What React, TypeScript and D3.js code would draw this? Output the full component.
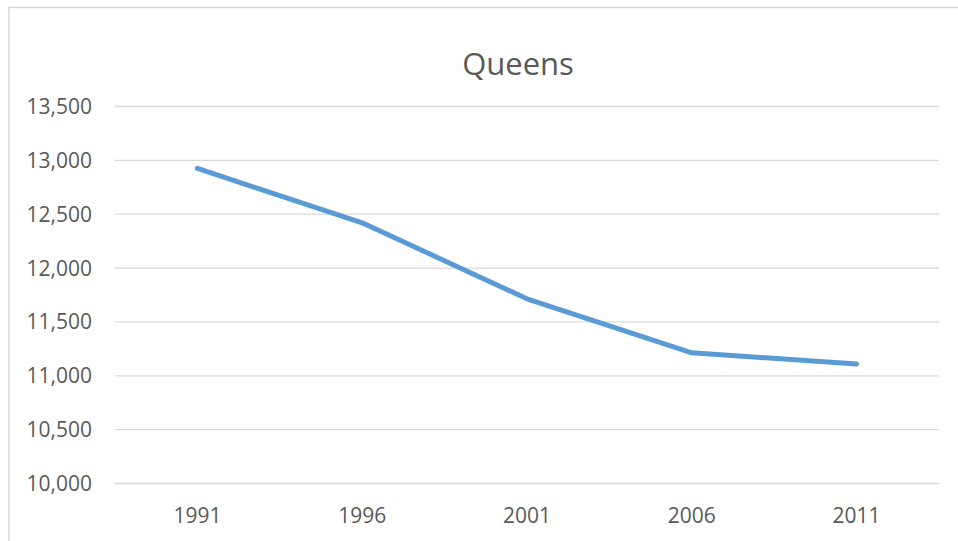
import React from "react";
import * as d3 from "d3";

const years = ["1991", "1996", "2001", "2006", "2011"];
const population = [12925, 12420, 11715, 11213, 11109];
const yTicks = [10000, 10500, 11000, 11500, 12000, 12500, 13000, 13500];
const chartTitle = "Queens";

const W = 958;
const H = 541;
const FONT = "'Open Sans', 'Liberation Sans', sans-serif";

export default function App() {
  const margin = { top: 106.5, right: 19, bottom: 57.5, left: 115 };

  const x = d3
    .scaleBand<string>()
    .domain(years)
    .range([margin.left, W - margin.right]);

  const y = d3
    .scaleLinear()
    .domain([10000, 13500])
    .range([H - margin.bottom, margin.top]);

  const line = d3
    .line<number>()
    .x((_, i) => (x(years[i]) as number) + x.bandwidth() / 2)
    .y(d => y(d));

  const fmt = d3.format(",");

  return (
    <svg
      width={W}
      height={H}
      style={{ position: "fixed", left: 0, top: 0, background: "#fff" }}
    >
      {/* chart frame */}
      <rect x={9} y={7.5} width={W + 10} height={H + 10} fill="#fff" stroke="#d9d9d9" strokeWidth={1.5} />

      <text
        x={518}
        y={75}
        textAnchor="middle"
        fontFamily={FONT}
        fontSize={31}
        fill="#595959"
      >
        {chartTitle}
      </text>

      {/* gridlines + y labels */}
      {yTicks.map(t => (
        <g key={t}>
          <line
            x1={margin.left}
            x2={W - margin.right}
            y1={y(t)}
            y2={y(t)}
            stroke="#d9d9d9"
            strokeWidth={1.3}
          />
          <text
            x={92}
            y={y(t)}
            dy="0.36em"
            textAnchor="end"
            fontFamily={FONT}
            fontSize={21}
            fill="#595959"
          >
            {fmt(t)}
          </text>
        </g>
      ))}

      {/* x labels */}
      {years.map(yr => (
        <text
          key={yr}
          x={(x(yr) as number) + x.bandwidth() / 2}
          y={515}
          dy="0.36em"
          textAnchor="middle"
          fontFamily={FONT}
          fontSize={21}
          fill="#595959"
        >
          {yr}
        </text>
      ))}

      <path
        d={line(population) || ""}
        fill="none"
        stroke="#5b9bd5"
        strokeWidth={5}
        strokeLinecap="round"
        strokeLinejoin="round"
      />
    </svg>
  );
}
